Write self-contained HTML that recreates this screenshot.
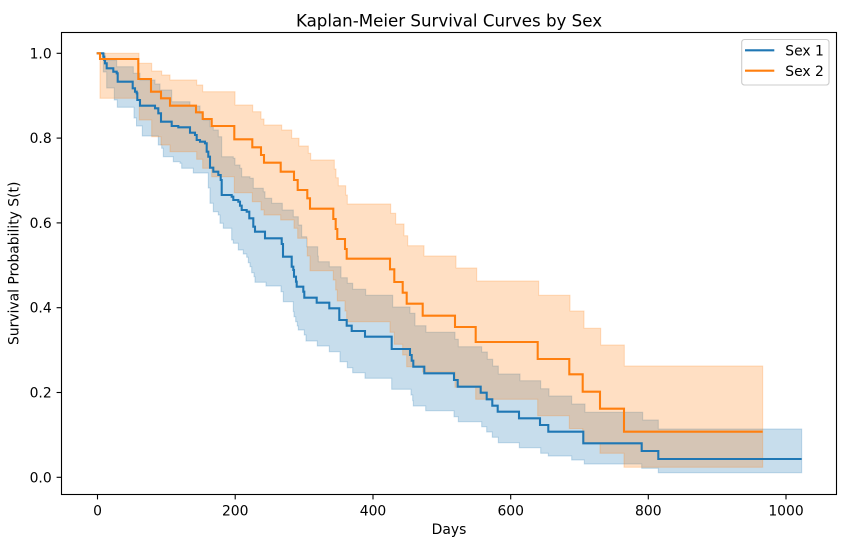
<!DOCTYPE html>
<html>
<head>
<meta charset="utf-8">
<style>
  html, body { margin: 0; padding: 0; background: #ffffff; }
  svg { display: block; }
  text { font-family: "DejaVu Sans", "Liberation Sans", sans-serif; fill: #000; }
</style>
</head>
<body>
<svg width="846" height="547" viewBox="0 0 846 547" xmlns="http://www.w3.org/2000/svg">
  <rect x="0" y="0" width="846" height="547" fill="#ffffff"/>

  <!-- Sex 1 confidence band -->
  <path fill="rgba(31,119,180,0.25)" stroke="rgba(31,119,180,0.25)" stroke-width="1" d="M103.3 53.3 H105 V60 H116.7 V66.7 H133.3 V73.3 H140 V80 H155 V84 H160 V90 H171.7 V101.7 H190 V106 H200 V113.3 H203.3 V120 H210 V126.7 H213.3 V130 H218.3 V136.7 H221.7 V156.7 H233.3 V158.3 H235 V165 H240 V168.3 H241.7 V176.7 H250 V178.3 H253.3 V188.3 H263.3 V191.7 H265 V198.3 H271.7 V203.3 H282.3 V210 H293.3 V216.7 H298.3 V225 H301.7 V236.7 H306.7 V246.7 H317.7 V256 H318.3 V261.7 H329.3 V266.7 H341 V277.7 H347.3 V283.3 H352.7 V289.3 H365.7 V295.3 H392.7 V307 H410 V313.3 H415 V325.7 H426 V332.3 H455 V339.3 H458.3 V346.7 H481.7 V352 H487.3 V359.3 H492.7 V366 H498.3 V374 H520 V380.7 H540.7 V388.7 H549 V396 H571.7 V404 H585 V412.3 H642.7 V420 H658.3 V429 H801.7 V472.7 H658.3 V468.3 H641.7 V464 H584.3 V460 H571.7 V456 H548.3 V453.3 H540.7 V447.7 H519.3 V442.7 H498.3 V437.3 H492.3 V432 H486.7 V426.7 H481.7 V421.7 H458.3 V416.7 H454 V410.7 H425.7 V406 H413.3 V400.7 H412.7 V395 H411 V389.3 H391.7 V378.3 H365 V372.7 H352.7 V367.7 H347.3 V361.7 H340 V351.7 H329.3 V346 H317.3 V341 H306 V335 H304.3 V330 H298.3 V326 H297.3 V321.7 H295.7 V316.7 H294 V311.7 H293.3 V301.7 H283.3 V291.7 H281 V286 H266 V282.3 H255 V276.7 H254 V272.7 H251.7 V266.7 H250 V262.7 H248.3 V257.3 H246.7 V254 H243.3 V250 H238.3 V243.3 H233.3 V240 H231.7 V228.3 H223.3 V223.3 H220 V215 H218.3 V211.7 H213.3 V203.3 H210 V188 H208.3 V173 H193.3 V168.3 H181.7 V163.3 H180 V161.7 H173.3 V156.7 H163.3 V148.3 H161.7 V145 H158.3 V136 H142.3 V126 H136.5 V118 H134 V107.3 H117.3 V100 H114.3 V88 H106.7 V72 H103.3 Z"/>

  <!-- Sex 2 confidence band -->
  <path fill="rgba(255,127,14,0.25)" stroke="rgba(255,127,14,0.25)" stroke-width="1" d="M100 53.3 H139 V63.3 H151.7 V71 H161.7 V75 H170 V80 H196.7 V85 H202.7 V91.7 H235 V105 H252.7 V111.7 H261 V119 H264 V125 H281.7 V130 H291.7 V138.3 H299 V146 H308.3 V153.3 H310.7 V160 H334.3 V169 H336 V177.7 H338.3 V185.7 H345.7 V195 H347.3 V204 H390.7 V213.3 H395.7 V224 H404 V235.7 H407.7 V245.7 H424 V256 H456 V268 H476.7 V281 H538.7 V295.3 H570 V311 H584 V328.3 H600.7 V345 H624.3 V366 H762.7 V467.3 H624 V453.3 H600 V443 H582.7 V428.5 H569.3 V415.7 H537.7 V399.3 H475.7 V387.3 H455 V372 H422.7 V366.7 H406.7 V355 H402.7 V344.3 H394.3 V332.3 H390 V321.7 H346.7 V311 H345 V301 H337.3 V290 H335.7 V280 H333.3 V270.7 H310 V256 H307.3 V238.3 H297.7 V228.3 H294 V220 H280.7 V215 H264 V210 H261 V201.7 H252.3 V192.7 H234.3 V176.7 H211.7 V168.3 H202.7 V159.3 H196.7 V151.7 H170 V145 H161 V136.7 H151.7 V120 H139.3 V98.3 H100 Z"/>

  <!-- Sex 1 line -->
  <path fill="none" stroke="#1f77b4" stroke-width="2.08" stroke-linejoin="miter" d="M96.7 53.3 H103.3 V56.7 H104.3 V60 H105 V63.3 H106.7 V68.3 H113.3 V71.7 H116.7 V73.3 H117.7 V81.7 H132.7 V88.3 H135 V91.7 H136.7 V93.3 H137.3 V100 H140 V105.7 H155 V108.3 H158.3 V113.3 H161 V121.7 H171.7 V126 H178.3 V127.3 H190 V132.7 H195 V135 H196.7 V140 H200 V141.7 H205 V143.3 H206.7 V151.7 H208.3 V156.7 H210 V167.7 H213.3 V171.7 H218.3 V175 H220.7 V180 H221.7 V195 H231.7 V196.7 H233.3 V200 H238.3 V201.7 H240 V205.7 H241.7 V210 H246.7 V211.7 H249.3 V218.3 H253.3 V226.7 H255 V231.7 H265 V238.3 H281.7 V244 H283 V256.7 H291.7 V266.7 H293.3 V270 H294 V276.7 H296 V281.7 H296.7 V286.7 H303.3 V291.7 H304.3 V297.7 H316.7 V302.7 H329.3 V308.3 H339.3 V320 H346.7 V325.7 H351.7 V331 H365 V336.7 H391.7 V349 H410 V355 H411.7 V360.7 H413.3 V366.7 H424.3 V373.3 H454 V380 H457.7 V386.7 H480.7 V392.7 H486.7 V399.3 H492.3 V405.7 H497.7 V411.7 H519 V418.3 H540 V425 H548.3 V431.7 H583.3 V443.3 H641.7 V451 H658.3 V459 H801.7"/>

  <!-- Sex 2 line -->
  <path fill="none" stroke="#ff7f0e" stroke-width="2.08" stroke-linejoin="miter" d="M96.7 53.3 H100 V59 H138.3 V79 H151 V91.7 H161 V98.3 H170 V105.7 H196 V112.3 H202.7 V119 H211.7 V126 H234.3 V139.3 H252.3 V147.3 H261 V155 H264 V162.7 H280.7 V171.7 H294 V180 H297.7 V190 H307.3 V198.3 H310 V208.7 H333.3 V219 H335.7 V229 H337.3 V239 H345 V249 H346.7 V258.7 H390 V269.3 H394.3 V282 H402.7 V292.7 H406.7 V303.7 H422.7 V315.7 H455 V327 H475.7 V342 H537.7 V359 H569.3 V374.3 H582.7 V391.7 H600 V408.7 H624 V431.7 H762.7"/>

  <!-- Axes frame -->
  <rect x="61.5" y="32.5" width="775" height="462" fill="none" stroke="#000" stroke-width="1.1"/>

  <!-- X ticks -->
  <g stroke="#000" stroke-width="1.1">
    <line x1="97.5" y1="494.5" x2="97.5" y2="499.4"/>
    <line x1="235.2" y1="494.5" x2="235.2" y2="499.4"/>
    <line x1="373" y1="494.5" x2="373" y2="499.4"/>
    <line x1="510.7" y1="494.5" x2="510.7" y2="499.4"/>
    <line x1="648.3" y1="494.5" x2="648.3" y2="499.4"/>
    <line x1="786" y1="494.5" x2="786" y2="499.4"/>
  </g>
  <g font-size="13.9" text-anchor="middle">
    <text x="97.5" y="515.3">0</text>
    <text x="235.2" y="515.3">200</text>
    <text x="373" y="515.3">400</text>
    <text x="510.7" y="515.3">600</text>
    <text x="648.3" y="515.3">800</text>
    <text x="786" y="515.3">1000</text>
  </g>

  <!-- Y ticks -->
  <g stroke="#000" stroke-width="1.1">
    <line x1="56.6" y1="53.3" x2="61.5" y2="53.3"/>
    <line x1="56.6" y1="138.1" x2="61.5" y2="138.1"/>
    <line x1="56.6" y1="222.9" x2="61.5" y2="222.9"/>
    <line x1="56.6" y1="307.7" x2="61.5" y2="307.7"/>
    <line x1="56.6" y1="392.5" x2="61.5" y2="392.5"/>
    <line x1="56.6" y1="477.3" x2="61.5" y2="477.3"/>
  </g>
  <g font-size="13.9" text-anchor="end">
    <text x="51.7" y="58.3">1.0</text>
    <text x="51.7" y="143.1">0.8</text>
    <text x="51.7" y="227.9">0.6</text>
    <text x="51.7" y="312.7">0.4</text>
    <text x="51.7" y="397.5">0.2</text>
    <text x="51.7" y="482.3">0.0</text>
  </g>

  <!-- Axis labels -->
  <text x="449" y="534" font-size="13.9" text-anchor="middle">Days</text>
  <text transform="translate(18.5,263.3) rotate(-90)" font-size="13.9" text-anchor="middle">Survival Probability S(t)</text>

  <!-- Title -->
  <text x="449" y="26.7" font-size="16.67" text-anchor="middle">Kaplan-Meier Survival Curves by Sex</text>

  <!-- Legend -->
  <rect x="741.7" y="39.5" width="87.3" height="45.5" rx="2.8" ry="2.8" fill="rgba(255,255,255,0.8)" stroke="#cccccc" stroke-width="1.1"/>
  <line x1="745" y1="50.3" x2="774.3" y2="50.3" stroke="#1f77b4" stroke-width="2.08"/>
  <line x1="745" y1="70.7" x2="774.3" y2="70.7" stroke="#ff7f0e" stroke-width="2.08"/>
  <text x="785.3" y="55.5" font-size="13.9">Sex 1</text>
  <text x="785.3" y="75.8" font-size="13.9">Sex 2</text>
</svg>
</body>
</html>
